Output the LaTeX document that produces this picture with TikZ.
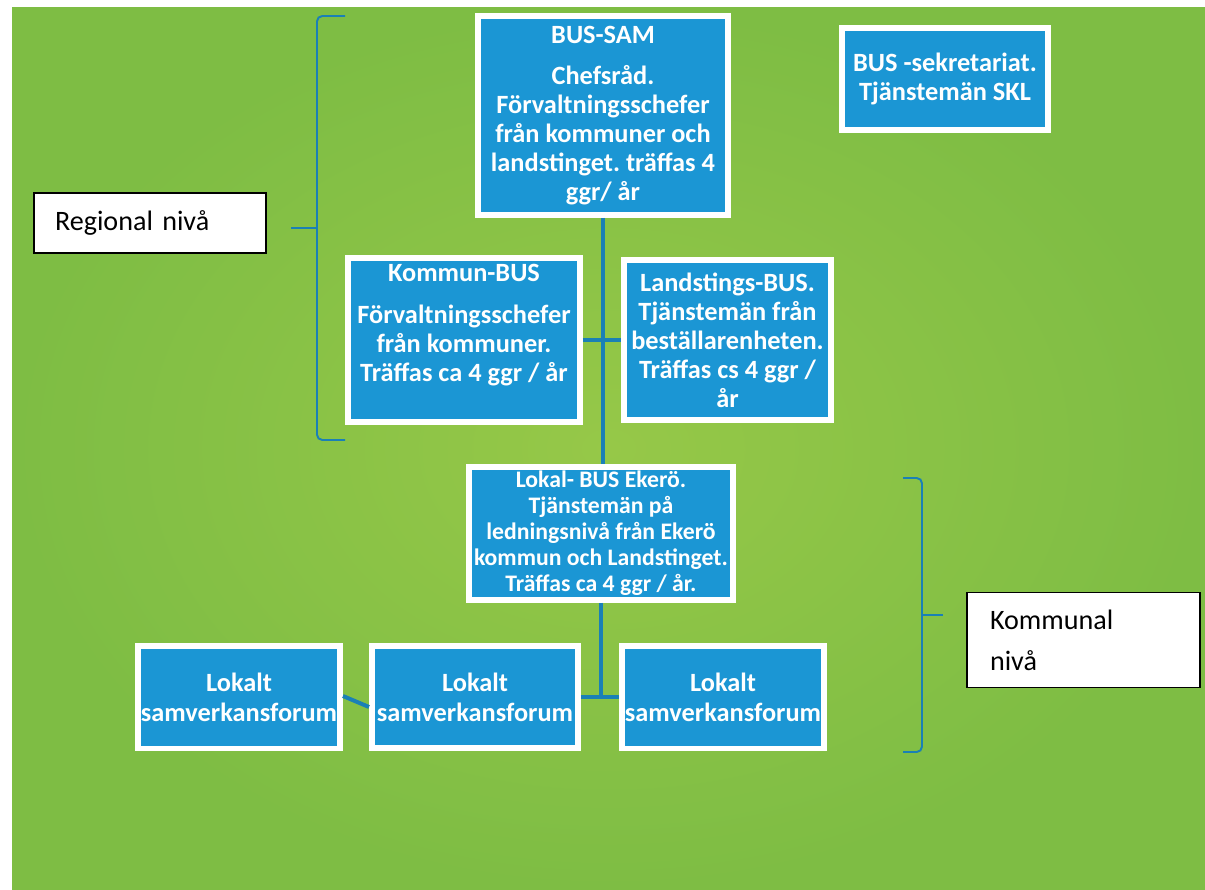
\documentclass[tikz,border=0pt]{standalone}
\usepackage{fontspec}
\setmainfont{Carlito}
\usetikzlibrary{calc}
\usetikzlibrary{positioning}
\definecolor{busblue}{RGB}{27,150,212}
\definecolor{linkblue}{RGB}{26,128,182}
\definecolor{lightgreen}{RGB}{150,200,72}
\definecolor{darkgreen}{RGB}{126,189,68}
\frenchspacing

\begin{document}
\begin{tikzpicture}
	[
	x=0.02cm, y=-0.02cm,
	busbox/.style = {draw=white, line width=0.12cm, fill=busblue, text=white, inner sep=0pt, align=center, font=\fontsize{15}{16.5}\selectfont\bfseries},
	levelbox/.style = {draw=black, line width=1pt, fill=white, align=left, inner ysep=0pt, font=\fontsize{16}{23.3}\selectfont},
	link/.style = {draw=linkblue, line width=0.08cm},
	brace/.style = {draw=linkblue, line width=1.1pt, rounded corners=3pt}
	]
	\useasboundingbox (0,0) rectangle (1205,890);
	\fill[white] (0,0) rectangle (1205,890);
	\shade[inner color=lightgreen, outer color=darkgreen] (12,7) rectangle (1205,890);

	% regional level
	\node[busbox, minimum width=5cm, minimum height=3.98cm] (sam) at (603,115.5) {BUS-SAM\\[7pt]Chefsråd.\\Förvaltningsschefer\\från kommuner och\\landstinget. träffas 4\\ggr/ år};
	\node[busbox, minimum width=4.12cm, minimum height=2.04cm, font=\fontsize{15}{17}\selectfont\bfseries] (sek) at (945,79) {BUS -sekretariat.\\Tjänstemän SKL};
	\node[busbox, minimum width=4.64cm, minimum height=3.28cm] (kommun) at (464,340) {Kommun-BUS\\[7pt]Förvaltningsschefer\\från kommuner.\\Träffas ca 4 ggr / år\\[3pt]\mbox{}};
	\node[busbox, minimum width=4.14cm, minimum height=3.2cm] (landsting) at (727.5,340) {Landstings-BUS.\\Tjänstemän från\\beställarenheten.\\Träffas cs 4 ggr /\\år};

	% kommunal level
	\node[busbox, minimum width=5.3cm, minimum height=2.66cm, font=\fontsize{13.5}{14.8}\selectfont\bfseries] (lokal) at (601,533.5) {Lokal- BUS Ekerö.\\Tjänstemän på\\ledningsnivå från Ekerö\\kommun och Landstinget.\\Träffas ca 4 ggr / år.};
	\node[busbox, minimum width=4.04cm, minimum height=2.06cm, font=\fontsize{15}{17}\selectfont\bfseries] (lok1) at (239,697) {Lokalt\\samverkansforum};
	\node[busbox, minimum width=4.12cm, minimum height=2.04cm, font=\fontsize{15}{17}\selectfont\bfseries] (lok2) at (475,697) {Lokalt\\samverkansforum};
	\node[busbox, minimum width=4.04cm, minimum height=2.06cm, font=\fontsize{15}{17}\selectfont\bfseries] (lok3) at (723,697) {Lokalt\\samverkansforum};

	% connectors
	\draw[link] (sam.south) -- (sam.south |- lokal.north);
	\draw[link] (kommun.east) -- (landsting.west);
	\draw[link] (lokal.south) -- (lokal.south |- lok2.east);
	\draw[link] (lok2.east) -- (lok3.west);
	\draw[link] ($(lok1.east)+(0,-1)$) -- ($(lok2.west)+(0,10)$);

	% level labels and brackets
	\node[levelbox, text width=3.8cm, inner xsep=0.42cm, minimum height=1.2cm] (regional) at (150,223) {Regional nivå};
	\node[levelbox, text width=3.74cm, inner xsep=0.46cm, minimum height=1.9cm] (kommunal) at (1083.5,640) {Kommunal\\nivå};
	\draw[brace] (345,16) -- (317,16) -- (317,440) -- (345,440);
	\coordinate (regtick) at (317,228);
	\draw[brace] (regtick) -- ++(-26,0);
	\draw[brace] (903,478) -- (922,478) -- (922,752) -- (903,752);
	\coordinate (komtick) at (922,615);
	\draw[brace] (komtick) -- ++(21,0);
\end{tikzpicture}
\end{document}
